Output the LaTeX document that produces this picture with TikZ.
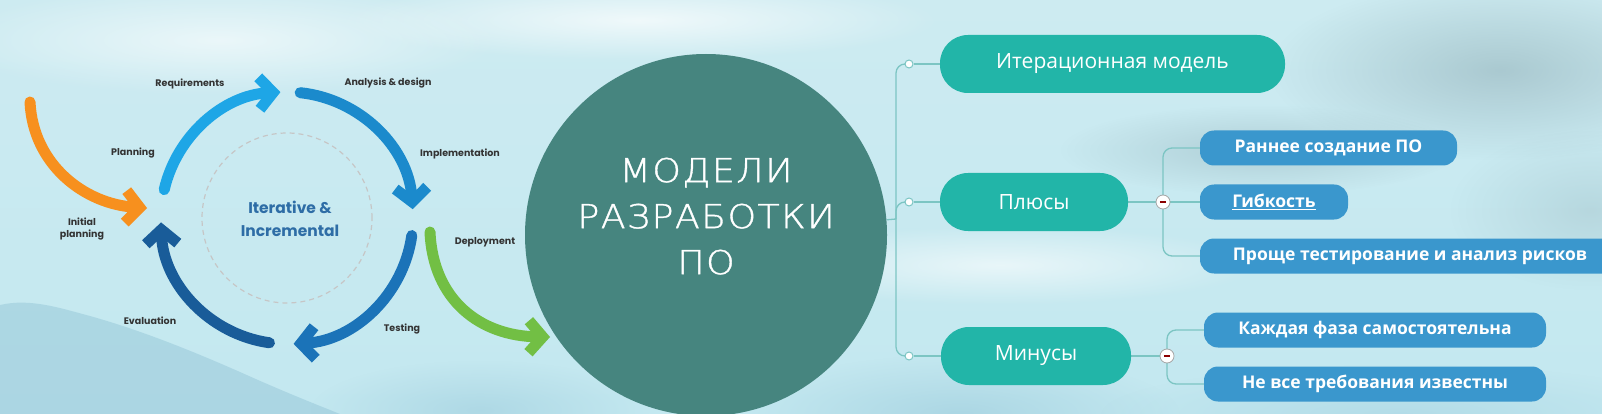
\documentclass[tikz,border=0pt]{standalone}
\usepackage{fontspec}
\setmainfont{Open Sans}
\newfontfamily\popfont{Poppins}
\newfontfamily\thinfont{DejaVuSans-ExtraLight.ttf}[LetterSpace=4,FakeBold=1]
\usetikzlibrary{arrows.meta,backgrounds,fadings}
\tikzfading[name=softblob, inner color=transparent!0, outer color=transparent!100]
\definecolor{bgtop}{HTML}{CDEBF1}
\definecolor{bgmid}{HTML}{E0F5F8}
\definecolor{bgbot}{HTML}{C3E8F0}
\definecolor{mtn}{HTML}{8FC2D5}
\definecolor{cloud}{HTML}{8FAEB6}
\definecolor{circ}{HTML}{46857F}
\definecolor{tealb}{HTML}{22B5A8}
\definecolor{blueb}{HTML}{3A97CD}
\definecolor{conn}{HTML}{7CC5C3}
\definecolor{ca}{HTML}{1EA6E6}
\definecolor{cb}{HTML}{1B8ACC}
\definecolor{cc}{HTML}{1B73B8}
\definecolor{cd}{HTML}{195C99}
\definecolor{corange}{HTML}{F7901E}
\definecolor{cgreen}{HTML}{72BF44}
\definecolor{labc}{HTML}{333333}
\definecolor{itc}{HTML}{2E6DA6}
\tikzset{
  cyc/.style={line width=11pt, line cap=round, -{Straight Barb[length=14pt,width=32pt]}},
  lab/.style={font=\popfont\bfseries\fontsize{9.5}{12}\selectfont, text=labc, align=center, inner sep=0},
  tealbox/.style={fill=tealb, rounded corners=28pt, minimum height=58pt, inner sep=0, text=white, font=\fontsize{21}{24}\selectfont},
  bluebox/.style={fill=blueb, rounded corners=14pt, minimum height=35pt, inner sep=0, text=white, font=\bfseries\fontsize{17.5}{20}\selectfont},
  dotn/.style={circle, draw=conn, fill=white, line width=1pt, minimum size=8pt, inner sep=0},
  minusn/.style={circle, draw=gray!70, fill=white, line width=0.8pt, minimum size=14pt, inner sep=0,
    path picture={\draw[red!55!black, line width=1.8pt] ([xshift=-3.2pt]path picture bounding box.center) -- ([xshift=3.2pt]path picture bounding box.center);}},
  connl/.style={draw=conn, line width=1.3pt, rounded corners=9pt},
  blob/.style={path fading=softblob},
}
\begin{document}
\begin{tikzpicture}[x=1pt,y=-1pt]
\useasboundingbox (0,0) rectangle (1602,414);
% ---------- nodes of the mind map ----------
\node[circle, fill=circ, minimum size=362pt, inner sep=0] (mc) at (706,235) {};
\node[text=white, inner sep=0] (mt) at (706,219) {\scalebox{1.1}[1]{\thinfont\fontsize{33}{46}\selectfont\begin{tabular}{@{}c@{}}МОДЕЛИ\\РАЗРАБОТКИ\\ПО\end{tabular}}};

\node[tealbox, minimum width=345pt] (bI) at (1112.5,64) {Итерационная модель};
\node[tealbox, minimum width=188pt] (bP) at (1034,202) {Плюсы};
\node[tealbox, minimum width=190pt] (bM) at (1036,356) {Минусы};

\node[bluebox, minimum width=257pt] (b1) at (1328.5,148) {Раннее создание ПО};
\node[bluebox, minimum width=148pt] (b2) at (1274,202) {\underline{Гибкость}};
\node[bluebox, minimum width=420pt] (b3) at (1410,256) {Проще тестирование и анализ рисков};
\node[bluebox, minimum width=342pt] (b4) at (1375,330) {Каждая фаза самостоятельна};
\node[bluebox, minimum width=342pt] (b5) at (1375,384) {Не все требования известны};

\node[dotn] (dI) at (909,64) {};
\node[dotn] (dP) at (909,202) {};
\node[dotn] (dM) at (909,356) {};
\node[minusn] (mP) at (1163,202) {};
\node[minusn] (mM) at (1167,356) {};
\coordinate (vx) at (896,219);

% ---------- cycle diagram ----------
\coordinate (cyc) at (287,218);
\node[circle, draw=gray!45, dashed, dash pattern=on 5pt off 4pt, line width=1.2pt, minimum size=170pt, inner sep=0] (dc) at (cyc) {};
\node[font=\popfont\bfseries\fontsize{15.5}{23}\selectfont, text=itc, align=center, inner sep=0] (itn) at (290,219) {Iterative \&\\Incremental};

\draw[cyc, ca] (cyc) ++(-167:126) arc[start angle=-167, end angle=-93, radius=126];
\draw[cyc, cb] (cyc) ++(-84:126) arc[start angle=-84, end angle=-4, radius=126];
\draw[cyc, cc] (cyc) ++(8:126) arc[start angle=8, end angle=87, radius=126];
\draw[cyc, cd] (cyc) ++(98:126) arc[start angle=98, end angle=178, radius=126];

\coordinate (os) at (30,102);
\coordinate (ot) at (147,208);
\draw[cyc, corange] (os) .. controls (33,165) and (85,204) .. (ot);
\coordinate (gs) at (430,232);
\coordinate (gt) at (550,337);
\draw[cyc, cgreen] (gs) .. controls (433,300) and (480,336) .. (gt);

\node[lab] (lreq) at (190,84) {Requirements};
\node[lab] (lana) at (388,83) {Analysis \& design};
\node[lab] (lpla) at (133,153) {Planning};
\node[lab] (limp) at (460,154) {Implementation};
\node[lab] (lini) at (82,229) {Initial\\planning};
\node[lab] (ldep) at (485,242) {Deployment};
\node[lab] (leva) at (150,321) {Evaluation};
\node[lab] (ltes) at (402,329) {Testing};

% ---------- background and connectors ----------
\begin{pgfonlayer}{background}
\shade[top color=bgtop, middle color=bgmid, bottom color=bgbot] (0,0) rectangle (1602,414);
% soft clouds / mountains
\fill[cloud, opacity=.55, blob] (1500,70) ellipse[x radius=230, y radius=90];
\fill[cloud, opacity=.45, blob] (1260,150) ellipse[x radius=200, y radius=45];
\fill[cloud, opacity=.3, blob] (1590,210) ellipse[x radius=140, y radius=80];
\fill[white, opacity=.7, blob] (640,20) ellipse[x radius=300, y radius=40];
\fill[white, opacity=.6, blob] (220,40) ellipse[x radius=280, y radius=55];
\fill[white, opacity=.6, blob] (1000,265) ellipse[x radius=260, y radius=40];
\fill[mtn, opacity=.45] (0,414) -- (0,305) .. controls (30,298) and (60,308) .. (90,316) .. controls (140,330) and (190,350) .. (240,372) .. controls (280,390) and (310,402) .. (340,414) -- cycle;
\fill[mtn, opacity=.4, blob] (480,410) ellipse[x radius=170, y radius=50];
\fill[mtn, opacity=.45, blob] (960,414) ellipse[x radius=220, y radius=60];
\fill[mtn, opacity=.3, blob] (1400,414) ellipse[x radius=300, y radius=50];

\draw[connl] (dI.west) -| (vx) |- (dM.west);
\draw[connl] (vx) |- (dP.west);
\draw[connl] (vx) -- (mc);
\draw[connl] (dI.east) -- (bI.west);
\draw[connl] (dP.east) -- (bP.west);
\draw[connl] (dM.east) -- (bM.west);
\draw[connl] (bP.east) -- (mP.west);
\draw[connl] (bM.east) -- (mM.west);
\draw[connl] (mP.center) |- (b1.west);
\draw[connl] (mP.center) -- (b2.west);
\draw[connl] (mP.center) |- (b3.west);
\draw[connl] (mM.center) |- (b4.west);
\draw[connl] (mM.center) |- (b5.west);
\end{pgfonlayer}
\end{tikzpicture}
\end{document}
